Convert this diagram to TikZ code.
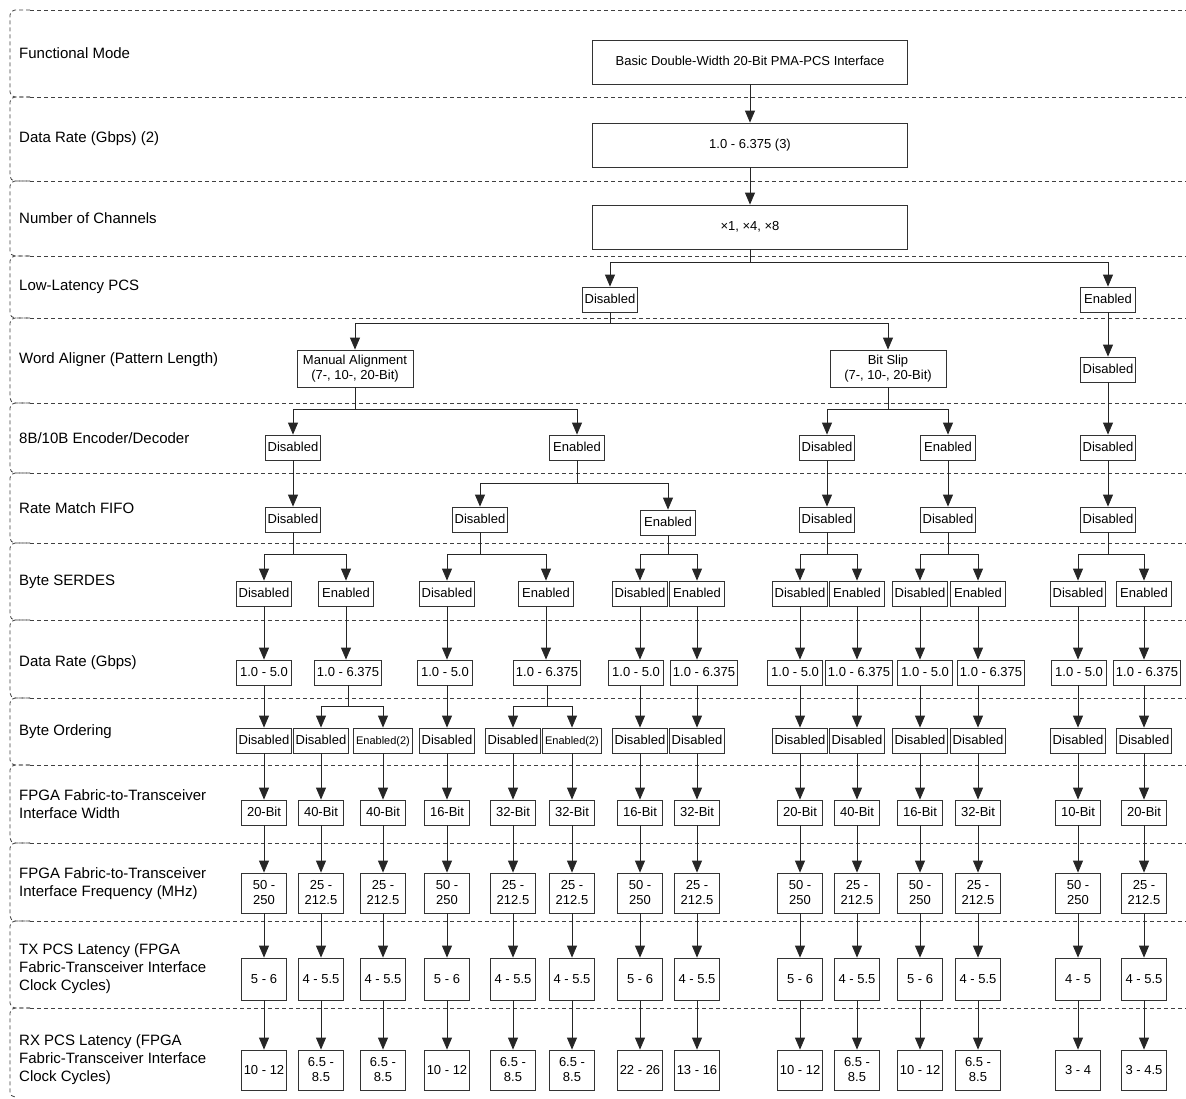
\documentclass[tikz,border=0pt]{standalone}
\usepackage{fontspec}
\setmainfont{Liberation Sans}
\usetikzlibrary{arrows.meta}

\tikzset{
    band/.style={draw=black!75, line width=0.8pt, dash pattern=on 4pt off 3pt, rounded corners=5pt},
    lbl/.style={anchor=west, align=left, inner sep=0pt, font=\fontsize{15}{18}\selectfont},
    opt/.style={draw=black!80, line width=0.8pt, inner xsep=2.5pt, inner ysep=0pt, minimum width=55pt, minimum height=25pt, text height=9.5pt, text depth=2.5pt, font=\fontsize{13}{15}\selectfont},
    optsm/.style={font=\fontsize{11}{13}\selectfont},
    wide/.style={opt, minimum width=315pt, minimum height=44pt},
    two/.style={draw=black!80, line width=0.8pt, align=center, inner sep=2pt, minimum width=116pt, minimum height=37pt, font=\fontsize{13}{15}\selectfont},
    cell/.style={draw=black!80, line width=0.8pt, align=center, inner sep=1pt, minimum width=45pt, minimum height=40pt, font=\fontsize{13}{15}\selectfont},
    arr/.style={draw=black!85, line width=0.8pt, -{Triangle[length=12pt, width=10pt]}}
}

\begin{document}
\begin{tikzpicture}[x=1pt, y=-1pt]
    \useasboundingbox (0,0) rectangle (1186,1098);

    \foreach \a/\b in {10/97, 97/181, 181/256, 256/318, 318/403, 403/473, 473/543, 543/620, 620/698, 698/765, 765/843, 843/921, 921/1008}
        \draw[band] (30,\a) -- (10,\a) -- (10,\b) -- (30,\b);
    \draw[band] (30,1008) -- (10,1008) -- (10,1097) -- (16,1097);
    \foreach \y in {10, 97, 181, 256, 318, 403, 473, 543, 620, 698, 765, 843, 921, 1008}
        \draw[band, rounded corners=0pt] (30,\y) -- (1186,\y);

    \node[lbl] (lfm) at (19,53) {Functional Mode};
    \node[lbl] (ldr) at (19,139) {Data Rate (Gbps) (2)};
    \node[lbl] (lnc) at (19,218) {Number of Channels};
    \node[lbl] (lll) at (19,287) {Low-Latency PCS};
    \node[lbl] (lwa) at (19,360) {Word Aligner (Pattern Length)};
    \node[lbl] (lenc) at (19,438) {8B/10B Encoder/Decoder};
    \node[lbl] (lrm) at (19,508) {Rate Match FIFO};
    \node[lbl] (lser) at (19,582) {Byte SERDES};
    \node[lbl] (lrate) at (19,663) {Data Rate (Gbps)};
    \node[lbl] (lbo) at (19,732) {Byte Ordering};
    \node[lbl] (lwid) at (19,804) {FPGA Fabric-to-Transceiver\\Interface Width};
    \node[lbl] (lfrq) at (19,884) {FPGA Fabric-to-Transceiver\\Interface Frequency (MHz)};
    \node[lbl] (ltx) at (19,969) {TX PCS Latency (FPGA\\Fabric-Transceiver Interface\\Clock Cycles)};
    \node[lbl] (lrx) at (19,1060) {RX PCS Latency (FPGA\\Fabric-Transceiver Interface\\Clock Cycles)};

    \node[wide] (fm) at (750,62) {Basic Double-Width 20-Bit PMA-PCS Interface};
    \node[wide] (dr) at (750,145) {1.0 - 6.375 (3)};
    \node[wide] (nc) at (750,227) {×1, ×4, ×8};
    \draw[arr] (fm.south) -- (dr.north);
    \draw[arr] (dr.south) -- (nc.north);

    \node[opt] (lld) at (610,299.5) {Disabled};
    \node[opt] (lle) at (1108,299.5) {Enabled};
    \draw[arr] (nc.south) -- ++(0,13) -| (lld.north);
    \draw[arr] (nc.south) -- ++(0,13) -| (lle.north);

    \node[two] (ma) at (355,368.5) {Manual Alignment\\(7-, 10-, 20-Bit)};
    \node[two] (bs) at (888,368.5) {Bit Slip\\(7-, 10-, 20-Bit)};
    \node[opt] (wad) at (1108,369.5) {Disabled};
    \draw[arr] (lld.south) -- ++(0,11) -| (ma.north);
    \draw[arr] (lld.south) -- ++(0,11) -| (bs.north);
    \draw[arr] (lle.south) -- (wad.north);

    \node[opt] (ed1) at (293,447.5) {Disabled};
    \node[opt] (ee1) at (577,447.5) {Enabled};
    \node[opt] (ed2) at (827,447.5) {Disabled};
    \node[opt] (ee2) at (948,447.5) {Enabled};
    \node[opt] (ed3) at (1108,447.5) {Disabled};
    \draw[arr] (ma.south) -- ++(0,22) -| (ed1.north);
    \draw[arr] (ma.south) -- ++(0,22) -| (ee1.north);
    \draw[arr] (bs.south) -- ++(0,22) -| (ed2.north);
    \draw[arr] (bs.south) -- ++(0,22) -| (ee2.north);
    \draw[arr] (wad.south) -- (ed3.north);

    \node[opt] (rm1) at (293,519.5) {Disabled};
    \node[opt] (rm2) at (480,519.5) {Disabled};
    \node[opt] (rm3) at (668,522.5) {Enabled};
    \node[opt] (rm4) at (827,519.5) {Disabled};
    \node[opt] (rm5) at (948,519.5) {Disabled};
    \node[opt] (rm6) at (1108,519.5) {Disabled};
    \draw[arr] (ed1.south) -- (rm1.north);
    \draw[arr] (ee1.south) -- ++(0,23) -| (rm2.north);
    \draw[arr] (ee1.south) -- ++(0,23) -| (rm3.north);
    \draw[arr] (ed2.south) -- (rm4.north);
    \draw[arr] (ee2.south) -- (rm5.north);
    \draw[arr] (ed3.south) -- (rm6.north);

    \foreach \x/\xd/\vs/\vd [count=\i] in {264/264/Disabled/1.0 - 5.0, 346/348/Enabled/1.0 - 6.375, 447/445/Disabled/1.0 - 5.0, 546/547/Enabled/1.0 - 6.375, 640/636/Disabled/1.0 - 5.0, 697/704/Enabled/1.0 - 6.375, 800/795/Disabled/1.0 - 5.0, 857/859/Enabled/1.0 - 6.375, 920/925/Disabled/1.0 - 5.0, 978/991/Enabled/1.0 - 6.375, 1078/1079/Disabled/1.0 - 5.0, 1144/1147/Enabled/1.0 - 6.375} {
        \node[opt] (s\i) at (\x,593.5) {\vs};
        \node[opt] (d\i) at (\xd,672.5) {\vd};
        \draw[arr] (s\i.south) -- (s\i.south |- d\i.north);
    }
    \foreach \p/\a/\b/\h in {rm1/1/2/22, rm2/3/4/22, rm3/5/6/19, rm4/7/8/22, rm5/9/10/22, rm6/11/12/22} {
        \draw[arr] (\p.south) -- ++(0,\h) -| (s\a.north);
        \draw[arr] (\p.south) -- ++(0,\h) -| (s\b.north);
    }

    \foreach \x/\st/\vb [count=\i] in {264/opt/Disabled, 321/opt/Disabled, 383/optsm/Enabled(2), 447/opt/Disabled, 513/opt/Disabled, 572/optsm/Enabled(2), 640/opt/Disabled, 697/opt/Disabled, 800/opt/Disabled, 857/opt/Disabled, 920/opt/Disabled, 978/opt/Disabled, 1078/opt/Disabled, 1144/opt/Disabled}
        \node[opt, \st] (b\i) at (\x,740.5) {\vb};
    \draw[arr] (d1.south) -- (b1.north);
    \draw[arr] (d2.south) -- ++(0,21) -| (b2.north);
    \draw[arr] (d2.south) -- ++(0,21) -| (b3.north);
    \draw[arr] (b4.north |- d3.south) -- (b4.north);
    \draw[arr] (d4.south) -- ++(0,21) -| (b5.north);
    \draw[arr] (d4.south) -- ++(0,21) -| (b6.north);
    \foreach \i/\j in {5/7, 6/8, 7/9, 8/10, 9/11, 10/12, 11/13, 12/14}
        \draw[arr] (b\j.north |- d\i.south) -- (b\j.north);

    \foreach \x/\vw/\vf/\vt/\vr [count=\i] in {264/20-Bit/50 -\\250/5 - 6/10 - 12, 321/40-Bit/25 -\\212.5/4 - 5.5/6.5 -\\8.5, 383/40-Bit/25 -\\212.5/4 - 5.5/6.5 -\\8.5, 447/16-Bit/50 -\\250/5 - 6/10 - 12, 513/32-Bit/25 -\\212.5/4 - 5.5/6.5 -\\8.5, 572/32-Bit/25 -\\212.5/4 - 5.5/6.5 -\\8.5, 640/16-Bit/50 -\\250/5 - 6/22 - 26, 697/32-Bit/25 -\\212.5/4 - 5.5/13 - 16, 800/20-Bit/50 -\\250/5 - 6/10 - 12, 857/40-Bit/25 -\\212.5/4 - 5.5/6.5 -\\8.5, 920/16-Bit/50 -\\250/5 - 6/10 - 12, 978/32-Bit/25 -\\212.5/4 - 5.5/6.5 -\\8.5, 1078/10-Bit/50 -\\250/4 - 5/3 - 4, 1144/20-Bit/25 -\\212.5/4 - 5.5/3 - 4.5} {
        \node[opt, minimum width=45pt] (w\i) at (\x,812.5) {\vw};
        \node[cell] (f\i) at (\x,893) {\vf};
        \node[cell, minimum height=42pt] (t\i) at (\x,979) {\vt};
        \node[cell] (r\i) at (\x,1070) {\vr};
        \draw[arr] (b\i.south) -- (w\i.north);
        \draw[arr] (w\i.south) -- (f\i.north);
        \draw[arr] (f\i.south) -- (t\i.north);
        \draw[arr] (t\i.south) -- (r\i.north);
    }
\end{tikzpicture}
\end{document}
